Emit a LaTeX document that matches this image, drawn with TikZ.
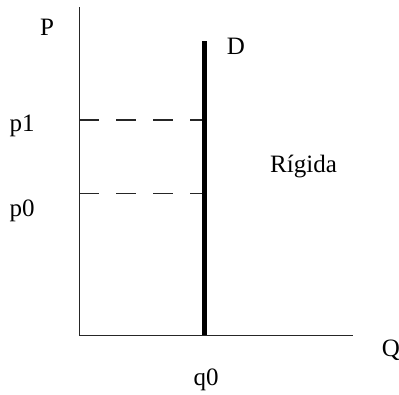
\documentclass[tikz,border=0pt]{standalone}
\usepackage{fontspec}
\setmainfont{Liberation Serif}
\begin{document}
\begin{tikzpicture}[x=1pt,y=-1pt,
  lbl/.style={inner sep=0pt,anchor=base,font=\fontsize{25}{28}\selectfont},
  axisline/.style={line width=1.3pt,black!85},
  demand/.style={line width=5pt,black},
  guide/.style={line width=1.3pt,black!85,dash pattern=on 20pt off 17pt}]
\useasboundingbox (0,0) rectangle (399,394);
\coordinate (Ptop) at (79.3,7);
\coordinate (O) at (79.3,335.3);
\coordinate (Qend) at (353.3,335.3);
\coordinate (Dtop) at (204.5,41);
\coordinate (Dbot) at (204.5,335.3);
\coordinate (a1) at (79.3,120);
\coordinate (b1) at (204.5,120);
\coordinate (a0) at (79.3,193.3);
\coordinate (b0) at (204.5,193.3);
\draw[axisline] (Ptop) -- (O) -- (Qend);
\draw[guide] (a1) -- (b1);
\draw[guide] (a0) -- (b0);
\draw[demand] (Dtop) -- (Dbot);
\node[lbl] (lP) at (47,35) {P};
\node[lbl] (lD) at (236,54) {D};
\node[lbl] (lp1) at (22,131) {p1};
\node[lbl] (lp0) at (22,216) {p0};
\node[lbl,anchor=base west] (lR) at (270,172) {Rígida};
\node[lbl] (lQ) at (391,356) {Q};
\node[lbl] (lq0) at (206,385) {q0};
\end{tikzpicture}
\end{document}
